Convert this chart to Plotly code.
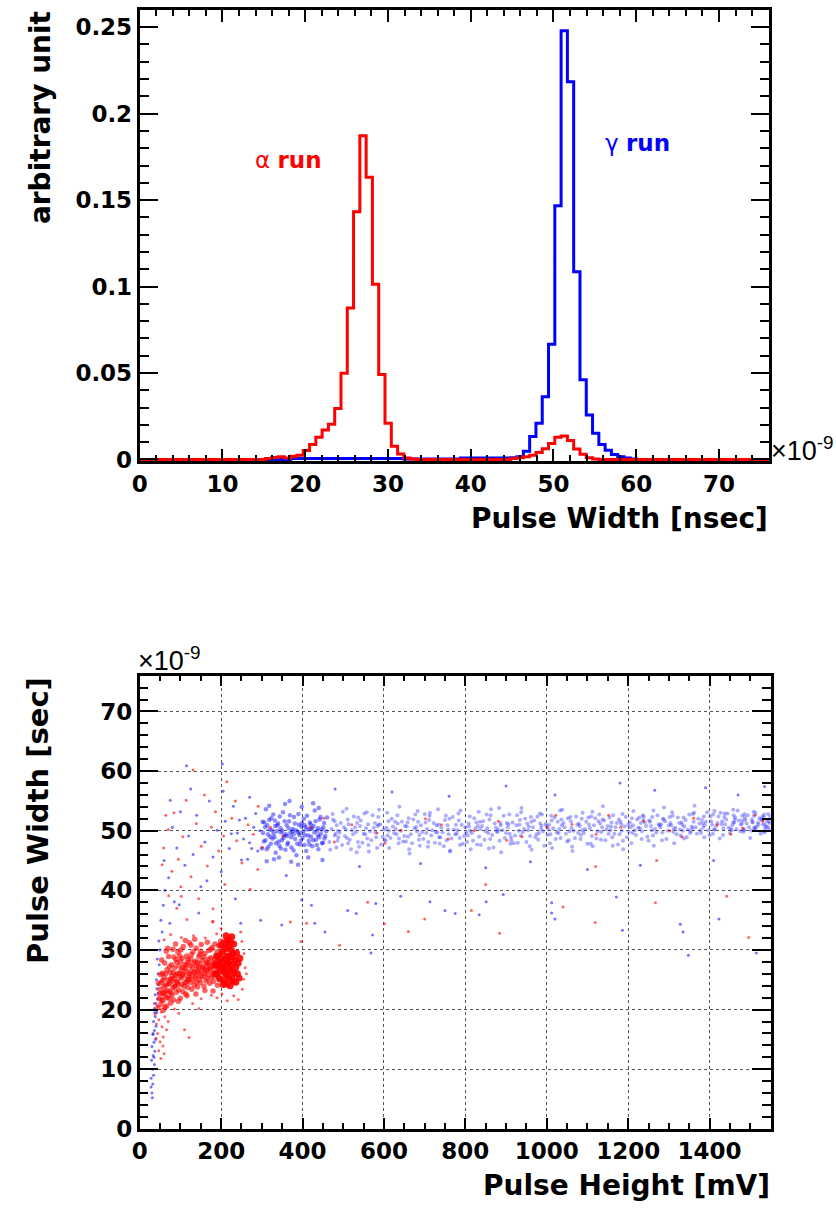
import plotly.graph_objects as go

W, H = 836, 1218

# ---------------- top panel: pulse-width distributions ----------------
# 100 bins spanning 0-76 ns (values are normalised, arbitrary unit)
HIST_LO, HIST_HI, N_BINS = 0.0, 76.0, 100

alpha_hist = [
    0, 0, 0, 0, 0, 0, 0, 0, 0, 0,
    0, 0, 0, 0, 0, 0, 0, 0, 0, 0,
    0.0005, 0.0012, 0.0015, 0.0008, 0.0018, 0.0025, 0.0052, 0.0086, 0.0128, 0.0171,
    0.0204, 0.0295, 0.0499, 0.0876, 0.1432, 0.1872, 0.1632, 0.1013, 0.0491, 0.0210,
    0.0076, 0.0032, 0.0008, 0.0003, 0, 0, 0, 0, 0, 0,
    0, 0, 0, 0, 0, 0, 0, 0, 0, 0.0005,
    0.0010, 0.0015, 0.0025, 0.0040, 0.0062, 0.0092, 0.0128, 0.0135, 0.0110, 0.0060,
    0.0030, 0.0010, 0.0003, 0, 0, 0, 0, 0, 0, 0,
    0, 0, 0, 0, 0, 0, 0, 0, 0, 0,
    0, 0, 0, 0, 0, 0, 0, 0, 0, 0,
]

gamma_hist = [
    0, 0, 0, 0, 0, 0, 0, 0, 0, 0,
    0, 0, 0, 0, 0, 0, 0, 0, 0, 0,
    0, 0, 0, 0, 0.0005, 0.0005, 0.0005, 0.0005, 0.0005, 0.0005,
    0.0005, 0.0005, 0.0005, 0.0005, 0.0005, 0.0005, 0.0005, 0.0005, 0.0005, 0.0005,
    0.0005, 0.0005, 0.0002, 0.0002, 0.0002, 0.0002, 0.0002, 0.0002, 0.0002, 0.0002,
    0.0002, 0.0008, 0.0008, 0.0008, 0.0008, 0.0008, 0.0008, 0.0008, 0.0008, 0.0010,
    0.0015, 0.0048, 0.0133, 0.0210, 0.0362, 0.0667, 0.1467, 0.2480, 0.2185, 0.1086,
    0.0461, 0.0257, 0.0152, 0.0086, 0.0053, 0.0029, 0.0015, 0.0008, 0.0003, 0,
    0, 0, 0, 0, 0, 0, 0, 0, 0, 0,
    0, 0, 0, 0, 0, 0, 0, 0, 0, 0,
]

hist_x_ticks = [0, 10, 20, 30, 40, 50, 60, 70]
hist_y_ticks = [0, 0.05, 0.1, 0.15, 0.2, 0.25]
hist_y_text = ["0", "0.05", "0.1", "0.15", "0.2", "0.25"]

# ---------------- bottom panel: pulse width vs pulse height ----------------
# (pulse height [mV], pulse width [ns])
alpha_core = [
    (212, 27.4), (218, 27.9), (206, 26.8), (224, 26.5), (215, 29.0), (209, 28.5), (221, 28.8), (228, 27.6),
    (201, 27.9), (214, 25.9), (219, 25.2), (207, 25.0), (226, 25.4), (232, 26.2), (234, 28.3), (203, 29.6),
    (211, 30.2), (218, 30.5), (225, 30.0), (230, 29.4), (197, 26.4), (199, 28.6), (236, 27.1), (240, 26.0),
    (213, 24.3), (222, 24.0), (205, 24.2), (229, 24.8), (216, 31.6), (209, 31.2), (223, 31.3), (196, 25.2),
    (238, 29.5), (242, 27.8), (193, 27.3), (210, 26.1), (220, 26.9), (227, 28.9), (204, 27.2), (216, 28.1),
    (188, 26.0), (190, 28.9), (244, 25.3), (231, 31.0), (200, 30.8), (212, 32.4), (236, 24.6), (246, 28.6),
    (185, 27.5), (226, 32.2),
]

alpha_band = [
    (48, 21.8), (50, 23.4), (52, 20.9), (53, 24.6), (55, 22.7), (56, 26.1), (57, 21.5), (59, 23.9), (60, 25.4), (61, 27.8),
    (63, 22.3), (64, 24.1), (66, 20.6), (67, 26.7), (68, 23.2), (70, 25.0), (71, 28.9), (72, 21.9), (74, 24.4), (75, 26.3),
    (77, 22.8), (78, 27.5), (79, 25.6), (81, 23.6), (82, 30.1), (83, 21.6), (85, 25.2), (86, 27.0), (87, 24.0), (89, 28.4),
    (90, 22.9), (92, 26.0), (93, 24.7), (94, 29.6), (96, 23.3), (97, 27.3), (99, 25.5), (100, 21.9), (102, 26.6), (103, 24.2),
    (104, 28.6), (106, 23.0), (107, 30.6), (108, 25.8), (110, 27.6), (111, 24.5), (113, 22.6), (114, 26.4), (115, 29.0), (117, 25.1),
    (118, 23.7), (120, 27.9), (121, 26.0), (122, 31.2), (124, 24.6), (125, 28.5), (127, 25.7), (128, 23.4), (130, 27.1), (131, 29.7),
    (133, 26.2), (134, 24.1), (136, 28.1), (137, 25.4), (139, 30.3), (140, 27.3), (142, 23.8), (143, 26.6), (145, 28.9), (146, 25.0),
    (148, 27.7), (149, 24.5), (151, 30.9), (152, 26.3), (154, 28.3), (155, 25.5), (157, 27.0), (158, 23.9), (160, 29.4), (161, 26.7),
    (163, 24.8), (164, 28.0), (166, 31.3), (167, 25.9), (169, 27.4), (170, 29.9), (172, 24.4), (173, 26.6), (175, 28.7), (176, 25.3),
    (178, 30.4), (179, 27.2), (181, 24.7), (182, 26.0), (184, 28.5), (185, 31.0), (187, 25.6), (188, 27.8), (190, 29.7), (191, 24.1),
    (193, 26.9), (194, 30.7), (196, 28.1), (197, 25.0), (199, 31.5), (65, 29.8), (88, 31.0), (112, 31.6), (135, 31.8), (58, 19.9),
    (62, 20.4), (76, 21.1), (95, 21.4), (116, 22.3), (138, 22.6), (160, 23.2), (180, 23.1), (101, 30.0), (126, 30.8), (150, 29.8),
    (54, 28.3), (69, 30.3), (84, 28.8), (98, 29.0), (46, 24.4), (45, 20.3), (51, 25.9), (73, 23.0), (91, 24.6), (119, 25.0),
    (49, 22.6), (54, 21.7), (57, 24.9), (61, 23.1), (64, 26.0), (67, 22.0), (70, 24.3), (73, 27.2), (76, 25.1), (79, 22.4),
    (82, 26.2), (85, 23.8), (88, 25.7), (91, 27.9), (94, 24.2), (97, 26.1), (100, 28.1), (103, 25.3), (106, 27.0), (109, 23.9),
    (112, 26.9), (115, 24.6), (118, 28.4), (121, 25.5), (124, 27.3), (127, 29.2), (130, 25.0), (133, 27.8), (136, 26.4), (139, 24.6),
    (142, 28.0), (145, 26.2), (148, 29.3), (151, 25.6), (154, 27.1), (157, 28.8), (160, 26.0), (163, 27.7), (166, 25.2), (169, 28.5),
    (172, 26.9), (175, 30.1), (178, 25.8), (181, 27.9), (184, 26.3), (187, 29.1), (190, 25.9), (193, 28.3), (196, 27.0), (198, 29.4),
    (105, 25.9), (125, 26.4), (145, 27.1), (165, 26.6), (185, 27.2), (80, 24.8), (60, 22.8), (140, 25.7), (170, 27.8), (115, 27.5),
]

alpha_sparse = [
    # low-width tail
    (38, 19.2), (41, 17.6), (44, 16.0), (47, 18.3), (50, 14.6), (53, 19.6), (55, 17.1), (58, 15.4), (60, 12.6),
    (43, 20.6), (62, 18.8), (40, 15.2), (66, 16.6), (47, 13.1), (36, 21.0), (52, 11.8), (57, 13.9), (70, 18.0),
    (110, 16.6), (121, 15.3), (96, 19.4), (130, 21.0), (151, 21.8), (85, 20.1), (176, 22.4), (202, 22.6),
    (231, 22.3), (252, 23.4), (242, 21.7), (215, 21.5), (190, 22.0), (145, 20.2),
    # just above the main cluster
    (60, 31.7), (76, 32.6), (102, 32.1), (132, 32.4), (161, 32.0), (189, 32.7), (251, 31.4), (256, 29.4),
    (259, 27.0), (255, 25.1), (180, 34.8), (116, 35.1), (91, 37.0), (71, 39.1), (248, 33.0), (262, 26.0), (200, 33.6),
    # long-width events at low pulse height
    (59, 47.1), (70, 50.2), (84, 53.0), (95, 45.2), (106, 49.0), (114, 55.1), (126, 42.3), (139, 51.2), (151, 47.4),
    (159, 56.0), (166, 44.1), (176, 50.6), (186, 53.2), (194, 46.6), (206, 49.1), (214, 58.2), (226, 52.1), (238, 48.3),
    (251, 44.6), (266, 51.0), (279, 49.4), (291, 54.1), (301, 47.2), (321, 50.6), (131, 60.2), (79, 43.2), (101, 40.6),
    (209, 41.0), (271, 40.2), (55, 44.3), (64, 52.6), (145, 38.6), (235, 55.0), (180, 36.9), (290, 43.5),
    # inside the gamma band
    (352, 49.1), (418, 50.6), (478, 48.1), (521, 51.0), (583, 49.6), (641, 50.1), (702, 52.0), (758, 48.6),
    (822, 50.0), (881, 51.6), (939, 49.0), (1001, 50.6), (1062, 51.1), (1121, 49.4), (1182, 50.6), (1238, 51.6),
    (1302, 50.0), (1361, 52.1), (1419, 51.0), (1481, 50.4), (1531, 51.6), (452, 52.1), (602, 47.9), (902, 48.4),
    (1152, 52.6), (1452, 49.4), (741, 51.0), (1022, 52.6), (1332, 49.0), (1512, 52.6),
    # isolated events
    (815, 36.6), (884, 32.8), (1119, 34.6), (1267, 37.9), (1496, 32.1), (1442, 39.0), (179, 34.7), (370, 34.7),
    (410, 34.5), (396, 31.4), (491, 30.8), (601, 34.4), (102, 39.0), (560, 38.0), (700, 35.2), (850, 41.0),
    (1270, 45.0), (1040, 37.2), (1120, 44.0), (660, 33.1),
]

gamma_low = [
    (30, 6.0), (32, 7.5), (28, 8.5), (34, 9.0), (31, 10.0), (36, 10.8), (29, 11.5), (33, 12.3), (37, 13.0), (30, 13.8),
    (35, 14.5), (39, 15.0), (32, 15.8), (36, 16.5), (40, 17.2), (34, 18.0), (38, 18.8), (42, 19.5), (36, 20.2), (40, 21.0),
    (44, 21.8), (38, 22.5), (42, 23.5), (46, 24.2), (41, 25.0), (45, 26.0), (48, 27.5), (43, 28.5), (50, 30.0), (47, 31.5),
    (55, 33.0), (52, 35.0), (58, 37.5), (62, 40.0), (35, 12.0), (33, 16.0), (37, 19.5), (28, 7.0), (31, 5.2), (45, 22.8),
]

gamma_cluster = [
    (305, 48.2), (308, 50.6), (312, 46.9), (315, 49.4), (318, 51.8), (322, 47.8), (325, 50.1), (328, 52.7), (331, 48.9), (334, 46.3),
    (337, 49.9), (340, 51.2), (343, 47.5), (346, 50.4), (349, 48.4), (352, 53.1), (355, 49.2), (358, 46.8), (361, 50.9), (364, 48.0),
    (367, 51.6), (370, 49.6), (373, 47.2), (376, 50.3), (379, 52.3), (382, 48.6), (385, 45.9), (388, 49.8), (391, 51.0), (394, 47.7),
    (397, 50.7), (400, 48.8), (403, 52.0), (406, 49.3), (409, 46.6), (412, 50.2), (415, 48.3), (418, 51.4), (421, 49.0), (424, 47.4),
    (427, 50.8), (430, 53.4), (433, 48.5), (436, 50.0), (439, 46.9), (442, 51.9), (445, 49.5), (448, 47.9), (451, 50.6), (454, 48.7),
    (320, 49.0), (333, 50.8), (347, 49.7), (362, 49.1), (378, 49.4), (392, 49.3), (405, 50.9), (420, 50.3), (438, 49.2), (458, 49.9),
    (310, 53.6), (330, 45.2), (357, 54.5), (372, 44.8), (398, 54.0), (414, 45.5), (440, 53.8), (300, 47.0), (302, 51.5), (460, 52.2),
    (303, 49.6), (306, 51.4), (309, 48.4), (313, 50.9), (316, 47.3), (319, 50.2), (323, 52.1), (326, 48.7), (329, 49.5), (332, 51.7),
    (335, 47.9), (338, 50.9), (341, 48.2), (344, 52.4), (347, 47.0), (350, 50.0), (353, 48.8), (356, 51.6), (359, 49.4), (363, 47.7),
    (366, 50.4), (369, 52.6), (372, 48.9), (375, 49.9), (378, 46.7), (381, 51.2), (384, 50.1), (387, 47.8), (390, 52.8), (393, 49.6),
    (396, 48.3), (399, 51.3), (402, 49.9), (405, 47.6), (408, 50.6), (411, 52.5), (414, 49.2), (417, 47.7), (420, 51.1), (423, 50.4),
    (426, 48.4), (429, 49.7), (432, 51.6), (435, 47.6), (438, 50.4), (441, 48.9), (444, 52.3), (447, 50.2), (450, 48.0), (453, 51.3),
    (456, 49.1), (312, 44.9), (342, 45.5), (368, 55.0), (389, 44.3), (426, 54.6), (449, 45.1), (318, 54.2),
]

gamma_band = [
    (466, 48.1), (471, 50.3), (475, 51.9), (479, 49.2), (468, 46.8), (474, 52.8),
    (491, 49.7), (497, 47.6), (494, 51.3), (502, 50.6), (499, 53.2), (488, 48.9),
    (516, 48.5), (521, 50.1), (526, 52.4), (519, 46.9), (524, 49.4), (513, 51.1),
    (541, 50.8), (547, 48.0), (543, 51.7), (550, 49.5), (539, 47.3), (552, 52.9),
    (566, 49.9), (572, 52.6), (569, 48.4), (575, 50.5), (563, 46.5), (578, 51.3),
    (591, 51.1), (597, 49.0), (593, 47.7), (600, 50.2), (588, 53.5), (602, 48.5),
    (616, 48.8), (622, 50.7), (619, 52.0), (625, 49.6), (613, 47.1), (627, 51.5),
    (641, 50.0), (647, 48.2), (644, 51.5), (650, 49.1), (638, 54.0), (652, 50.8),
    (666, 49.4), (672, 51.9), (669, 47.9), (675, 50.4), (663, 46.2), (677, 52.7),
    (691, 50.9), (697, 48.6), (694, 49.8), (700, 52.8), (688, 47.5), (702, 51.4),
    (716, 49.2), (722, 51.3), (719, 50.1), (725, 48.0), (713, 53.0), (727, 49.8),
    (741, 50.5), (747, 47.4), (744, 49.7), (750, 51.8), (738, 48.9), (752, 52.5),
    (766, 48.7), (772, 50.2), (769, 52.3), (775, 49.4), (763, 46.7), (777, 51.0),
    (791, 51.0), (797, 49.1), (794, 47.8), (800, 50.6), (788, 53.4), (802, 49.7),
    (816, 49.6), (822, 52.1), (819, 48.3), (825, 50.4), (813, 46.9), (827, 51.4),
    (841, 50.8), (847, 48.5), (844, 51.6), (850, 49.9), (838, 47.6), (852, 52.7),
    (866, 49.3), (872, 51.2), (869, 47.2), (875, 50.5), (863, 53.6), (877, 49.9),
    (891, 50.1), (897, 48.8), (894, 52.5), (900, 49.6), (888, 46.4), (902, 51.3),
    (916, 51.4), (922, 49.2), (919, 47.9), (925, 50.9), (913, 48.4), (927, 52.6),
    (941, 49.8), (947, 52.0), (944, 50.3), (950, 48.1), (938, 53.8), (952, 51.2),
    (966, 50.6), (972, 48.9), (969, 51.7), (975, 49.4), (963, 46.8), (977, 52.4),
    (991, 49.9), (997, 51.1), (994, 47.5), (1000, 50.8), (988, 52.7), (1002, 49.3),
    (1016, 50.4), (1022, 48.6), (1019, 52.2), (1025, 49.7), (1013, 47.1), (1027, 51.5),
    (1041, 51.3), (1047, 49.5), (1044, 50.6), (1050, 48.2), (1038, 53.5), (1052, 52.1),
    (1066, 50.0), (1072, 52.4), (1069, 48.8), (1075, 51.0), (1063, 46.6), (1077, 49.6),
    (1091, 49.6), (1097, 51.5), (1094, 50.3), (1100, 47.8), (1088, 53.0), (1102, 52.2),
    (1116, 50.9), (1122, 48.7), (1119, 52.1), (1125, 49.9), (1113, 47.4), (1127, 51.6),
    (1141, 51.7), (1147, 50.2), (1144, 48.4), (1150, 50.8), (1138, 54.1), (1152, 49.5),
    (1166, 49.5), (1172, 51.3), (1169, 50.6), (1175, 47.7), (1163, 52.6), (1177, 51.9),
    (1191, 50.7), (1197, 48.9), (1194, 52.3), (1200, 51.0), (1188, 46.9), (1202, 49.8),
    (1216, 50.1), (1222, 51.9), (1219, 49.3), (1225, 50.5), (1213, 53.3), (1227, 52.2),
    (1241, 51.4), (1247, 49.0), (1244, 50.8), (1250, 48.3), (1238, 52.4), (1252, 51.7),
    (1266, 50.3), (1272, 52.6), (1269, 49.7), (1275, 51.1), (1263, 47.5), (1277, 50.9),
    (1291, 51.6), (1297, 50.0), (1294, 48.6), (1300, 50.9), (1288, 53.9), (1302, 52.3),
    (1316, 50.5), (1322, 52.2), (1319, 49.4), (1325, 51.3), (1313, 47.9), (1327, 50.2),
    (1341, 51.8), (1347, 50.2), (1344, 48.9), (1350, 52.7), (1338, 50.7), (1352, 49.6),
    (1366, 50.6), (1372, 52.0), (1369, 49.5), (1375, 51.2), (1363, 54.2), (1377, 50.1),
    (1391, 51.5), (1397, 50.1), (1394, 53.1), (1400, 49.2), (1388, 50.9), (1402, 52.4),
    (1416, 50.8), (1422, 52.4), (1419, 51.3), (1425, 48.7), (1413, 50.2), (1427, 53.0),
    (1441, 51.9), (1447, 50.5), (1444, 52.9), (1450, 49.6), (1438, 51.1), (1452, 50.3),
    (1466, 50.3), (1472, 51.7), (1469, 53.4), (1475, 49.9), (1463, 52.2), (1477, 51.0),
    (1491, 51.2), (1497, 50.6), (1494, 52.6), (1500, 48.8), (1488, 51.8), (1502, 50.0),
    (1516, 50.7), (1522, 52.1), (1519, 51.4), (1525, 49.5), (1513, 53.0), (1527, 51.9),
    (1541, 51.6), (1547, 50.2), (1544, 52.8), (1536, 51.0), (1533, 49.7), (1548, 51.3),
    (1480, 52.5), (1505, 51.5), (1510, 50.4), (1530, 52.4), (1540, 50.7), (1458, 51.4), (1485, 50.1), (1520, 51.0),
    (481, 49.5), (484, 50.9), (486, 48.3), (479, 51.6), (483, 47.2), (487, 50.0),
    (506, 50.2), (509, 48.8), (511, 51.9), (504, 49.1), (508, 53.7), (512, 47.9),
    (531, 49.8), (534, 51.3), (536, 48.1), (529, 50.6), (533, 46.4), (537, 52.2),
    (556, 50.4), (559, 48.7), (561, 51.1), (554, 49.4), (558, 53.1), (562, 47.6),
    (581, 48.9), (584, 50.8), (586, 52.3), (579, 49.7), (583, 47.1), (587, 51.0),
    (606, 50.5), (609, 49.2), (611, 51.6), (604, 48.3), (608, 53.0), (612, 50.0),
    (631, 49.4), (634, 51.2), (636, 47.9), (629, 50.3), (633, 52.6), (637, 48.7),
    (656, 50.7), (659, 49.0), (661, 52.1), (654, 48.2), (658, 51.4), (662, 46.9),
    (681, 49.9), (684, 51.5), (686, 48.5), (679, 50.6), (683, 53.3), (687, 49.3),
    (706, 50.3), (709, 48.1), (711, 51.8), (704, 49.6), (708, 47.3), (712, 52.5),
    (731, 49.7), (734, 51.0), (736, 48.9), (729, 50.9), (733, 53.6), (737, 47.8),
    (756, 50.9), (759, 49.4), (761, 52.0), (754, 48.4), (758, 50.2), (762, 46.5),
    (781, 50.1), (784, 51.7), (786, 48.8), (779, 49.5), (783, 52.9), (787, 47.6),
    (806, 49.2), (809, 50.7), (811, 52.4), (804, 48.1), (808, 51.2), (812, 50.0),
    (831, 50.8), (834, 49.0), (836, 51.5), (829, 47.7), (833, 53.2), (837, 50.3),
    (856, 49.6), (859, 51.9), (861, 48.6), (854, 50.4), (858, 47.0), (862, 52.6),
    (881, 50.2), (884, 48.3), (886, 51.3), (879, 49.8), (883, 53.8), (887, 50.9),
    (906, 51.1), (909, 49.5), (911, 47.8), (904, 50.6), (908, 52.7), (912, 48.9),
    (931, 50.0), (934, 51.8), (936, 49.2), (929, 48.0), (933, 51.0), (937, 53.1),
    (956, 50.7), (959, 49.1), (961, 52.3), (954, 50.1), (958, 47.4), (962, 51.5),
    (981, 49.6), (984, 51.2), (986, 50.3), (979, 48.5), (983, 52.9), (987, 50.8),
    (1006, 51.0), (1009, 49.4), (1011, 52.5), (1004, 50.2), (1008, 47.9), (1012, 51.7),
    (1031, 50.3), (1034, 48.8), (1036, 51.9), (1029, 49.6), (1033, 53.4), (1037, 50.9),
    (1056, 49.9), (1059, 51.6), (1061, 50.5), (1054, 48.4), (1058, 52.3), (1062, 47.3),
    (1081, 50.8), (1084, 49.3), (1086, 52.0), (1079, 51.2), (1083, 48.6), (1087, 50.1),
    (1106, 50.4), (1109, 52.4), (1111, 49.1), (1104, 51.0), (1108, 47.8), (1112, 53.2),
    (1131, 51.2), (1134, 49.8), (1136, 50.6), (1129, 52.7), (1133, 48.5), (1137, 51.9),
    (1156, 50.1), (1159, 51.4), (1161, 48.9), (1154, 52.2), (1158, 50.7), (1162, 47.5),
    (1181, 51.5), (1184, 50.0), (1186, 52.8), (1179, 49.4), (1183, 51.1), (1187, 48.3),
    (1206, 50.6), (1209, 52.1), (1211, 49.6), (1204, 51.4), (1208, 47.9), (1212, 50.9),
    (1231, 51.3), (1234, 49.9), (1236, 52.6), (1229, 50.4), (1233, 48.6), (1237, 51.8),
    (1256, 50.8), (1259, 52.3), (1261, 49.2), (1254, 51.5), (1258, 50.1), (1262, 53.4),
    (1281, 51.1), (1284, 49.7), (1286, 52.0), (1279, 50.6), (1283, 48.4), (1287, 51.9),
    (1306, 50.9), (1309, 52.5), (1311, 49.8), (1304, 51.3), (1308, 53.1), (1312, 50.3),
    (1331, 51.4), (1334, 50.0), (1336, 52.2), (1329, 49.2), (1333, 51.0), (1337, 48.7),
    (1356, 50.7), (1359, 52.8), (1361, 51.5), (1354, 49.9), (1358, 50.4), (1362, 53.0),
    (1381, 51.8), (1384, 50.5), (1386, 52.4), (1379, 49.6), (1383, 51.2), (1387, 48.9),
    (1406, 51.0), (1409, 52.7), (1411, 50.2), (1404, 51.6), (1408, 49.5), (1412, 53.3),
    (1431, 51.6), (1434, 50.4), (1436, 52.3), (1429, 51.1), (1433, 49.3), (1437, 52.9),
    (1456, 50.9), (1459, 52.6), (1461, 51.4), (1454, 50.1), (1458, 53.5), (1462, 51.9),
    (1481, 51.7), (1484, 50.3), (1486, 52.8), (1479, 51.2), (1483, 49.8), (1487, 52.2),
    (1506, 51.4), (1509, 52.5), (1511, 50.6), (1504, 51.9), (1508, 53.2), (1512, 50.2),
    (1531, 51.1), (1534, 52.7), (1536, 50.4), (1529, 51.8), (1533, 52.2), (1537, 49.9),
    (1546, 51.5), (1549, 52.4), (1543, 50.6),
]

gamma_sparse = [
    (60, 45.0), (71, 42.1), (80, 50.6), (91, 47.1), (100, 53.2), (111, 44.2), (120, 49.1), (131, 46.0), (140, 52.6),
    (150, 40.6), (160, 48.1), (171, 55.0), (180, 45.6), (190, 50.1), (200, 43.1), (210, 51.6), (220, 47.0), (230, 54.1),
    (240, 49.6), (250, 45.1), (260, 52.1), (270, 48.0), (280, 50.6), (290, 46.6), (75, 55.1), (125, 57.0), (203, 61.2),
    (85, 38.1), (145, 36.2), (235, 38.6), (165, 41.6), (205, 56.6), (270, 55.6), (115, 60.9), (255, 48.6), (285, 52.9),
    (265, 45.2), (245, 51.8), (295, 50.0), (225, 49.5), (275, 47.0),
    (74, 34.5), (97, 37.6), (248, 34.5), (297, 35.0), (398, 38.4), (422, 37.5), (430, 34.5), (511, 36.6), (532, 36.1),
    (572, 32.5), (568, 29.5), (641, 39.0), (580, 37.8), (455, 33.0), (349, 34.2), (750, 36.6), (775, 36.1), (834, 35.9),
    (851, 38.1), (1012, 37.9), (1012, 36.2), (1020, 35.2), (1171, 38.9), (1186, 33.3), (1328, 34.3), (1335, 33.0),
    (1348, 29.1), (1423, 35.2), (1515, 29.5), (713, 38.1), (893, 39.3), (480, 57.0), (620, 56.5), (900, 57.5),
    (1180, 58.0), (1265, 56.8), (1390, 57.2), (1470, 56.0), (1020, 56.0), (760, 55.8), (540, 44.0), (690, 44.5),
    (960, 44.8), (1230, 44.2), (1410, 45.0), (850, 43.8), (1100, 43.5), (360, 42.5), (1535, 57.4),
]

scat_x_ticks = [0, 200, 400, 600, 800, 1000, 1200, 1400]
scat_y_ticks = [0, 10, 20, 30, 40, 50, 60, 70]

RED = "#ff0000"
BLUE = "#0000ff"
FONT = "DejaVu Sans"


def px_x(p):
    return p / W


def px_y(p):
    return 1 - p / H


def unzip(points):
    return [p[0] for p in points], [p[1] for p in points]


bin_w = (HIST_HI - HIST_LO) / N_BINS
edges = [HIST_LO + i * bin_w for i in range(N_BINS + 1)]

fig = go.Figure()

for vals, col in ((gamma_hist, BLUE), (alpha_hist, RED)):
    fig.add_trace(go.Scatter(
        x=edges, y=list(vals) + [vals[-1]],
        mode="lines", line=dict(color=col, width=3, shape="hv"),
        xaxis="x", yaxis="y", showlegend=False, hoverinfo="skip",
    ))

scatter_sets = [
    (gamma_low, "rgba(0,0,255,0.55)", 3),
    (gamma_sparse, "rgba(0,0,255,0.55)", 3),
    (gamma_cluster, "rgba(0,0,255,0.45)", 4.5),
    (gamma_band, "rgba(40,40,255,0.38)", 4),
    (alpha_sparse, "rgba(255,0,0,0.6)", 3),
    (alpha_band, "rgba(255,0,0,0.62)", 5.5),
    (alpha_core, "rgba(255,0,0,0.9)", 7),
]
for pts, col, size in scatter_sets:
    xs, ys = unzip(pts)
    fig.add_trace(go.Scatter(
        x=xs, y=ys, mode="markers",
        marker=dict(color=col, size=size, line=dict(width=0)),
        xaxis="x2", yaxis="y2", showlegend=False, hoverinfo="skip",
    ))

tick_font = dict(family=FONT, size=23, color="black", weight="bold")

common = dict(
    showline=True, linecolor="black", mirror="allticks", ticks="inside",
    tickcolor="black", tickfont=tick_font, zeroline=False, fixedrange=True,
)

fig.update_layout(
    width=W, height=H, autosize=False,
    margin=dict(l=0, r=0, t=0, b=0),
    paper_bgcolor="white", plot_bgcolor="white",
    xaxis=dict(
        domain=[px_x(133), px_x(768)], anchor="y",
        range=[HIST_LO, HIST_HI], tickvals=hist_x_ticks,
        ticklen=12, tickwidth=2, linewidth=3, showgrid=False,
        minor=dict(ticks="inside", dtick=2, tick0=0, ticklen=6, tickwidth=2, tickcolor="black", showgrid=False),
        **common,
    ),
    yaxis=dict(
        domain=[px_y(466), px_y(10)], anchor="x",
        range=[-0.0009, 0.26], tickvals=hist_y_ticks, ticktext=hist_y_text,
        ticklen=18, tickwidth=2, linewidth=3, showgrid=False,
        minor=dict(ticks="inside", dtick=0.01, tick0=0, ticklen=9, tickwidth=2, tickcolor="black", showgrid=False),
        **common,
    ),
    xaxis2=dict(
        domain=[px_x(133), px_x(770)], anchor="y2",
        range=[0, 1550], tickvals=scat_x_ticks,
        ticklen=11, tickwidth=1.5, linewidth=2.5,
        showgrid=True, gridcolor="#555555", griddash="dot", gridwidth=1,
        minor=dict(ticks="inside", dtick=50, tick0=0, ticklen=6, tickwidth=1.5, tickcolor="black", showgrid=False),
        **common,
    ),
    yaxis2=dict(
        domain=[px_y(1141), px_y(683)], anchor="x2",
        range=[0, 76], tickvals=scat_y_ticks,
        ticklen=19, tickwidth=1.5, linewidth=2.5,
        showgrid=True, gridcolor="#555555", griddash="dot", gridwidth=1,
        minor=dict(ticks="inside", dtick=2, tick0=0, ticklen=9, tickwidth=1.5, tickcolor="black", showgrid=False),
        **common,
    ),
)

title_font = dict(family=FONT, size=28, color="black", weight="bold")


def note(text, x, y, xanchor="center", yanchor="middle", font=None, angle=0):
    fig.add_annotation(
        text=text, x=px_x(x), y=px_y(y), xref="paper", yref="paper",
        xanchor=xanchor, yanchor=yanchor, showarrow=False,
        textangle=angle, font=font or title_font,
    )


# axis titles
note("Pulse Width [nsec]", 769, 524, xanchor="right")
note("arbitrary unit", 33, 9, yanchor="top", angle=-90)
note("Pulse Height [mV]", 771, 1198, xanchor="right")
note("Pulse Width [sec]", 31, 682, yanchor="top", angle=-90,
     font=dict(family=FONT, size=29, color="black", weight="bold"))

# exponent markers
exp_font = dict(family="Liberation Sans", size=27, color="black")
note("×10<sup>-9</sup>", 768, 454, xanchor="left", font=exp_font)
note("×10<sup>-9</sup>", 129, 666, xanchor="left", font=exp_font)

# run labels
note("α <b>run</b>", 283, 162, font=dict(family=FONT, size=23, color=RED))
note("γ <b>run</b>", 636, 145, font=dict(family=FONT, size=23, color=BLUE))

fig.write_html("out.html")
